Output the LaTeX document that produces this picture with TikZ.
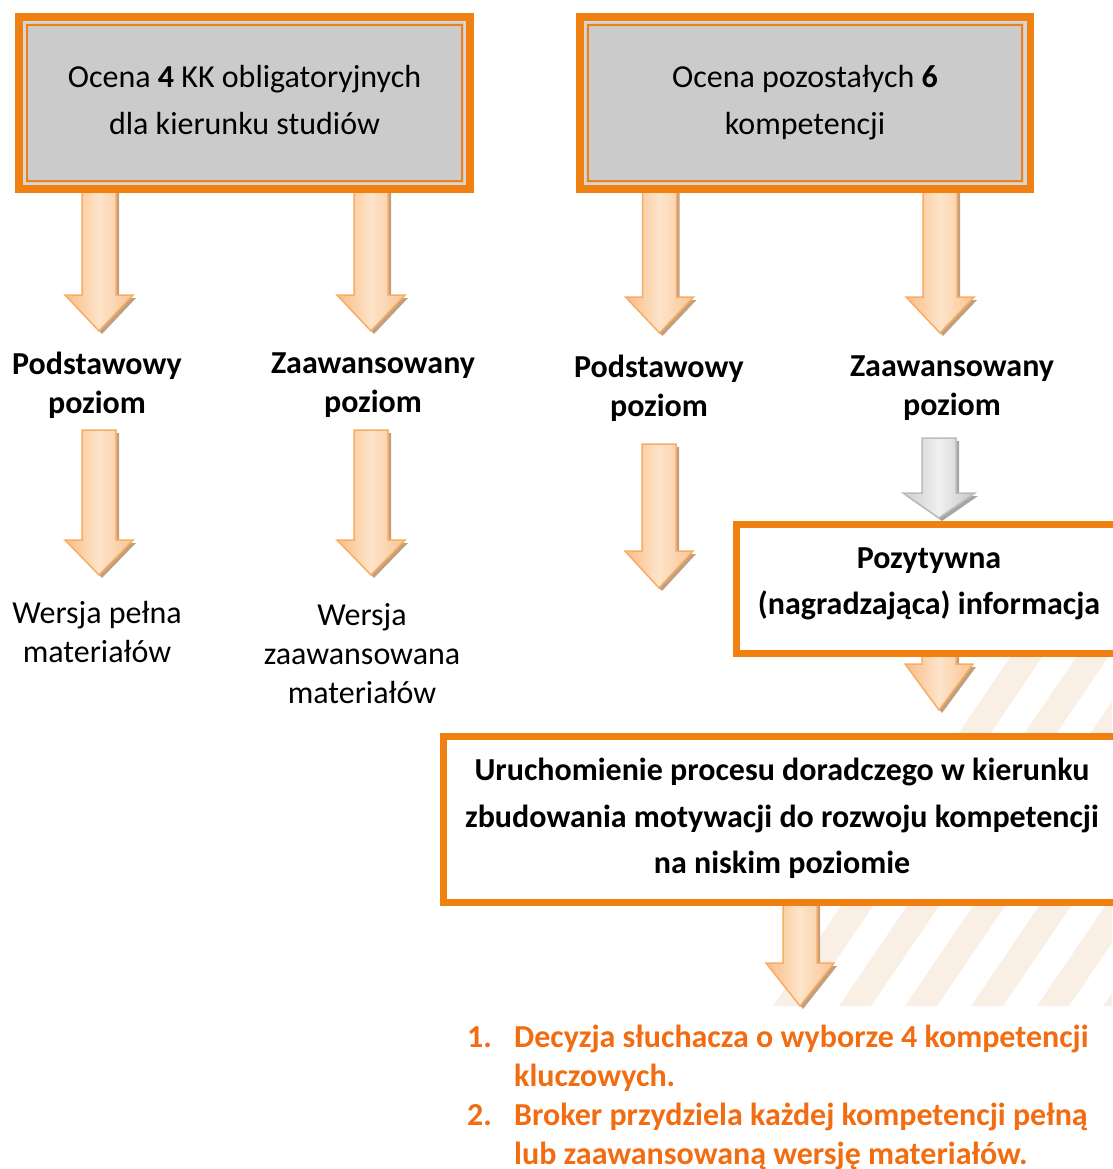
\documentclass[tikz,border=0pt]{standalone}
\usepackage{fontspec}
\setmainfont{Carlito}
\definecolor{orng}{RGB}{240,128,16}
\definecolor{boxgray}{RGB}{203,203,203}
\definecolor{gapgray}{RGB}{214,214,214}
\definecolor{listorange}{RGB}{242,108,18}
\definecolor{stripecol}{RGB}{250,239,228}
\definecolor{arrL}{RGB}{249,188,132}
\definecolor{arrM}{RGB}{253,228,202}
\definecolor{arrR}{RGB}{249,196,148}
\definecolor{arrEdge}{RGB}{249,172,100}
\definecolor{arrShadow}{RGB}{192,160,128}
\definecolor{gL}{RGB}{205,205,205}
\definecolor{gM}{RGB}{240,240,240}
\definecolor{gR}{RGB}{196,196,196}
\definecolor{gEdge}{RGB}{188,188,188}
\definecolor{gShadow}{RGB}{165,165,165}
\tikzset{
  orangearrow/.style={draw=arrEdge, line width=1.5pt, line join=miter, left color=arrL, right color=arrR, middle color=arrM},
  grayarrow/.style={draw=gEdge, line width=1.5pt, line join=miter, left color=gL, right color=gR, middle color=gM},
  orangeshadow/.style={fill=arrShadow},
  grayshadow/.style={fill=gShadow},
  topbox/.style={draw=orng, line width=8.5pt, fill=boxgray, minimum width=450pt, minimum height=171.5pt, inner sep=0pt},
  whitebox/.style={draw=orng, line width=7pt, fill=white, inner sep=0pt},
  boxtxt/.style={align=center, font=\fontsize{32}{47}\selectfont, inner sep=0pt},
  lbl/.style={align=center, font=\bfseries\fontsize{32}{39}\selectfont, inner sep=0pt},
  reg/.style={align=center, font=\fontsize{32}{39}\selectfont, inner sep=0pt},
  boldtxt/.style={align=center, font=\bfseries\fontsize{32}{46.5}\selectfont, inner sep=0pt},
  listtxt/.style={font=\bfseries\fontsize{32}{39}\selectfont, text=listorange, inner sep=0pt},
  stripe/.style={fill=stripecol},
}
% #1 style prefix, #2 x, #3 top, #4 head start, #5 tip, #6 shaft half width, #7 head half width
\newcommand\blockarrow[7]{%
  \fill[#1shadow, shift={(3,3)}] ({#2-#6},#3) -- ({#2+#6},#3) -- ({#2+#6},#4) -- ({#2+#7},#4) -- (#2,#5) -- ({#2-#7},#4) -- ({#2-#6},#4) -- cycle;
  \path[#1arrow] ({#2-#6},#3) -- ({#2+#6},#3) -- ({#2+#6},#4) -- ({#2+#7},#4) -- (#2,#5) -- ({#2-#7},#4) -- ({#2-#6},#4) -- cycle;
}
\begin{document}
\begin{tikzpicture}[x=1pt, y=-1pt]
\useasboundingbox (0,0) rectangle (1112,1169);
\fill[white] (0,0) rectangle (1112,1169);

% striped background
\begin{scope}
  \clip (740,650) rectangle (1112,1006);
  \foreach \k in {0,...,6} {
    \fill[stripe] ({773+66*\k},1006) -- ({805+66*\k},1006) -- ({805+66*\k+238},656) -- ({773+66*\k+238},656) -- cycle;
  }
\end{scope}

% block arrows
\blockarrow{orange}{99}{190}{295}{331}{17}{34}
\blockarrow{orange}{371}{190}{295}{331}{17}{34}
\blockarrow{orange}{659.5}{190}{297}{333}{17}{34}
\blockarrow{orange}{940}{190}{297}{333}{17}{34}
\blockarrow{orange}{99}{430}{540}{575}{17}{34}
\blockarrow{orange}{371}{430}{540}{575}{17}{34}
\blockarrow{orange}{659}{444}{551}{588}{17}{34}
\blockarrow{gray}{939}{438}{493}{518}{17}{36}
\blockarrow{orange}{939}{650}{664}{710}{17}{34}
\blockarrow{orange}{800}{900}{963}{1006}{17}{34}

% top boxes
\node[topbox] (b1) at (244.5,103) {};
\draw[gapgray, line width=2.5pt] ([shift={(9,9)}]b1.north west) rectangle ([shift={(-9,-9)}]b1.south east);
\draw[orng, line width=2.2pt] ([shift={(12,12)}]b1.north west) rectangle ([shift={(-12,-12)}]b1.south east);
\node[boxtxt] (b1t) at (244.5,100) {Ocena \textbf{4} KK obligatoryjnych\\dla kierunku studiów};

\node[topbox] (b2) at (805,103) {};
\draw[gapgray, line width=2.5pt] ([shift={(9,9)}]b2.north west) rectangle ([shift={(-9,-9)}]b2.south east);
\draw[orng, line width=2.2pt] ([shift={(12,12)}]b2.north west) rectangle ([shift={(-12,-12)}]b2.south east);
\node[boxtxt] (b2t) at (805,103) {Ocena pozostałych \textbf{6}\\kompetencji};

% level labels
\node[lbl] (l1) at (97,385.5) {Podstawowy\\poziom};
\node[lbl] (l2) at (373,385.5) {Zaawansowany\\poziom};
\node[lbl] (l3) at (659,388) {Podstawowy\\poziom};
\node[lbl] (l4) at (952,388) {Zaawansowany\\poziom};

% versions
\node[reg] (w1) at (97,632.5) {Wersja pełna\\materiałów};
\node[reg] (w2) at (362,654) {Wersja\\zaawansowana\\materiałów};

% positive info box
\node[whitebox, minimum width=385pt, minimum height=129pt] (poz) at (929,589) {};
\node[boldtxt] (pozt) at (929,584) {Pozytywna\\(nagradzająca) informacja};

% advisory process box
\node[whitebox, minimum width=678pt, minimum height=166pt] (uru) at (782.5,819.5) {};
\node[boldtxt] (urut) at (782,818.5) {Uruchomienie procesu doradczego w kierunku\\zbudowania motywacji do rozwoju kompetencji\\na niskim poziomie};

% final list
\node[listtxt, anchor=north west] (list) at (467,1020) {%
  \begin{tabular}{@{}p{47pt}@{}l@{}}
  1. & Decyzja słuchacza o wyborze 4 kompetencji\\
     & kluczowych.\\
  2. & Broker przydziela każdej kompetencji pełną\\
     & lub zaawansowaną wersję materiałów.
  \end{tabular}};
\end{tikzpicture}
\end{document}
